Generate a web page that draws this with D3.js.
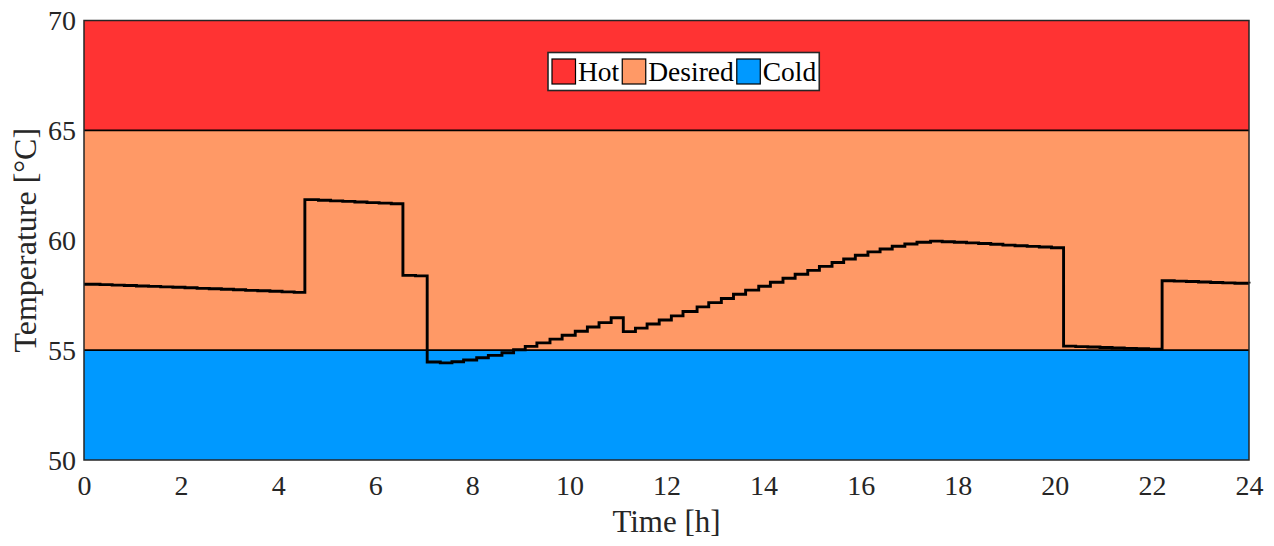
<!DOCTYPE html>
<html>
<head>
<meta charset="utf-8">
<script src="https://cdn.jsdelivr.net/npm/d3@7"></script>
<style>
  html, body { margin: 0; padding: 0; background: #fff; }
  svg { display: block; }
  text { font-family: "Liberation Serif", "DejaVu Serif", serif; fill: #262626; }
</style>
</head>
<body>
<svg id="chart" width="1274" height="546"></svg>
<script>
// ---- data ----
const xTicks = [0, 2, 4, 6, 8, 10, 12, 14, 16, 18, 20, 22, 24];
const yTicks = [50, 55, 60, 65, 70];
const zoneNames = ["Hot", "Desired", "Cold"];
const zoneLow  = [65, 55, 50];
const zoneHigh = [70, 65, 55];
const zoneColors = ["#FF3333", "#FF9966", "#0099FF"];

// step-after breakpoints: time [h] and temperature [°C] held until the next time
const stepTimes = [
  0, 0.33, 0.58, 0.83, 1.08, 1.33, 1.58, 1.83, 2.08, 2.33, 2.58, 2.83, 3.08, 3.33, 3.58, 3.83, 4.08, 4.33,
  4.55, 4.83, 5.08, 5.33, 5.58, 5.83, 6.08, 6.33,
  6.57, 6.83,
  7.07, 7.34, 7.58, 7.82, 8.09, 8.33, 8.61, 8.85, 9.09, 9.33, 9.60, 9.85, 10.12, 10.37, 10.61, 10.86,
  11.11, 11.36, 11.60, 11.85, 12.10, 12.34, 12.63, 12.87, 13.13, 13.38, 13.63, 13.90, 14.14, 14.40, 14.65,
  14.91, 15.15, 15.41, 15.65, 15.89, 16.15, 16.40, 16.65, 16.91, 17.16, 17.44, 17.68,
  17.93, 18.18, 18.43, 18.68, 18.93, 19.18, 19.43, 19.68, 19.93,
  20.18, 20.43, 20.68, 20.93, 21.18, 21.43, 21.68, 21.93,
  22.21, 22.46, 22.71, 22.96, 23.21, 23.46, 23.71, 24
];
const stepTemps = [
  58.00, 57.98, 57.96, 57.94, 57.92, 57.90, 57.88, 57.86, 57.84, 57.81, 57.79, 57.77, 57.75, 57.72, 57.70, 57.68, 57.65, 57.63,
  61.85, 61.82, 61.79, 61.77, 61.74, 61.71, 61.69, 61.66,
  58.40, 58.38,
  54.46, 54.42, 54.47, 54.55, 54.65, 54.76, 54.88, 55.02, 55.17, 55.33, 55.50, 55.68, 55.86, 56.05, 56.25, 56.47,
  55.84, 56.00, 56.19, 56.37, 56.56, 56.76, 56.97, 57.16, 57.35, 57.54, 57.73, 57.91, 58.09, 58.27, 58.45,
  58.63, 58.81, 58.99, 59.15, 59.32, 59.47, 59.60, 59.73, 59.83, 59.91, 59.96, 59.93,
  59.91, 59.88, 59.85, 59.82, 59.78, 59.75, 59.72, 59.69, 59.66,
  55.18, 55.16, 55.14, 55.12, 55.10, 55.08, 55.06, 55.04,
  58.16, 58.14, 58.12, 58.10, 58.08, 58.06, 58.04, 58.03
];

// ---- layout ----
const svg = d3.select("#chart");
const L = 84, T = 20.5, R = 1249, B = 460;
const x = d3.scaleLinear().domain([0, 24]).range([L, R]);
const y = d3.scaleLinear().domain([50, 70]).range([B, T]);

// zones
const zones = zoneNames.map((n, i) => ({ name: n, lo: zoneLow[i], hi: zoneHigh[i], color: zoneColors[i] }));
svg.append("g").selectAll("rect").data(zones).join("rect")
  .attr("x", x(0)).attr("width", x(24) - x(0))
  .attr("y", d => y(d.hi)).attr("height", d => y(d.lo) - y(d.hi))
  .attr("fill", d => d.color);

// zone boundary lines
svg.append("g").selectAll("line").data([65, 55]).join("line")
  .attr("x1", x(0)).attr("x2", x(24))
  .attr("y1", d => y(d)).attr("y2", d => y(d))
  .attr("stroke", "#000").attr("stroke-width", 1.6);

// temperature line
const pts = stepTimes.map((t, i) => [t, stepTemps[i]]);
const line = d3.line().x(d => x(d[0])).y(d => y(d[1])).curve(d3.curveStepAfter);
svg.append("path").datum(pts)
  .attr("d", line).attr("fill", "none")
  .attr("stroke", "#000").attr("stroke-width", 2.9)
  .attr("stroke-linejoin", "miter");

// box
svg.append("rect").attr("x", L).attr("y", T).attr("width", R - L).attr("height", B - T)
  .attr("fill", "none").attr("stroke", "#262626").attr("stroke-width", 1.5);

// axes labels (ticks)
const xAxis = d3.axisBottom(x).tickValues(xTicks).tickSize(0).tickPadding(0).tickFormat(d3.format("d"));
const gx = svg.append("g").attr("transform", `translate(0,${B})`).call(xAxis);
gx.select(".domain").remove();
gx.selectAll("text").attr("font-size", 28).attr("dy", null).attr("y", 35)
  .style("font-family", '"Liberation Serif", serif').attr("fill", "#262626");

const yAxis = d3.axisLeft(y).tickValues(yTicks).tickSize(0).tickPadding(0).tickFormat(d3.format("d"));
const gy = svg.append("g").attr("transform", `translate(${L - 8},0)`).call(yAxis);
gy.select(".domain").remove();
gy.selectAll("text").attr("font-size", 28).attr("dy", "0.33em").attr("x", 0)
  .style("font-family", '"Liberation Serif", serif').attr("fill", "#262626");

// axis titles
svg.append("text").attr("x", (L + R) / 2).attr("y", 532).attr("text-anchor", "middle")
  .attr("font-size", 31).text("Time [h]");
svg.append("text").attr("transform", `translate(36,${(T + B) / 2}) rotate(-90)`)
  .attr("text-anchor", "middle").attr("font-size", 32).text("Temperature [°C]");

// legend
const lg = svg.append("g");
const lgBox = lg.append("rect").attr("x", 548).attr("y", 52.5).attr("width", 277).attr("height", 38)
  .attr("fill", "#fff").attr("stroke", "#262626").attr("stroke-width", 1.6);
let cx = 552;
zones.forEach(z => {
  lg.append("rect").attr("x", cx).attr("y", 59).attr("width", 23.5).attr("height", 25)
    .attr("fill", z.color).attr("stroke", "#000").attr("stroke-width", 1.2);
  const t = lg.append("text").attr("x", cx + 26).attr("y", 81).attr("font-size", 27.5)
    .attr("fill", "#000").style("fill", "#000").text(z.name);
  cx += 26 + t.node().getComputedTextLength() + 3;
});
lgBox.attr("width", cx - 548);
</script>
</body>
</html>
